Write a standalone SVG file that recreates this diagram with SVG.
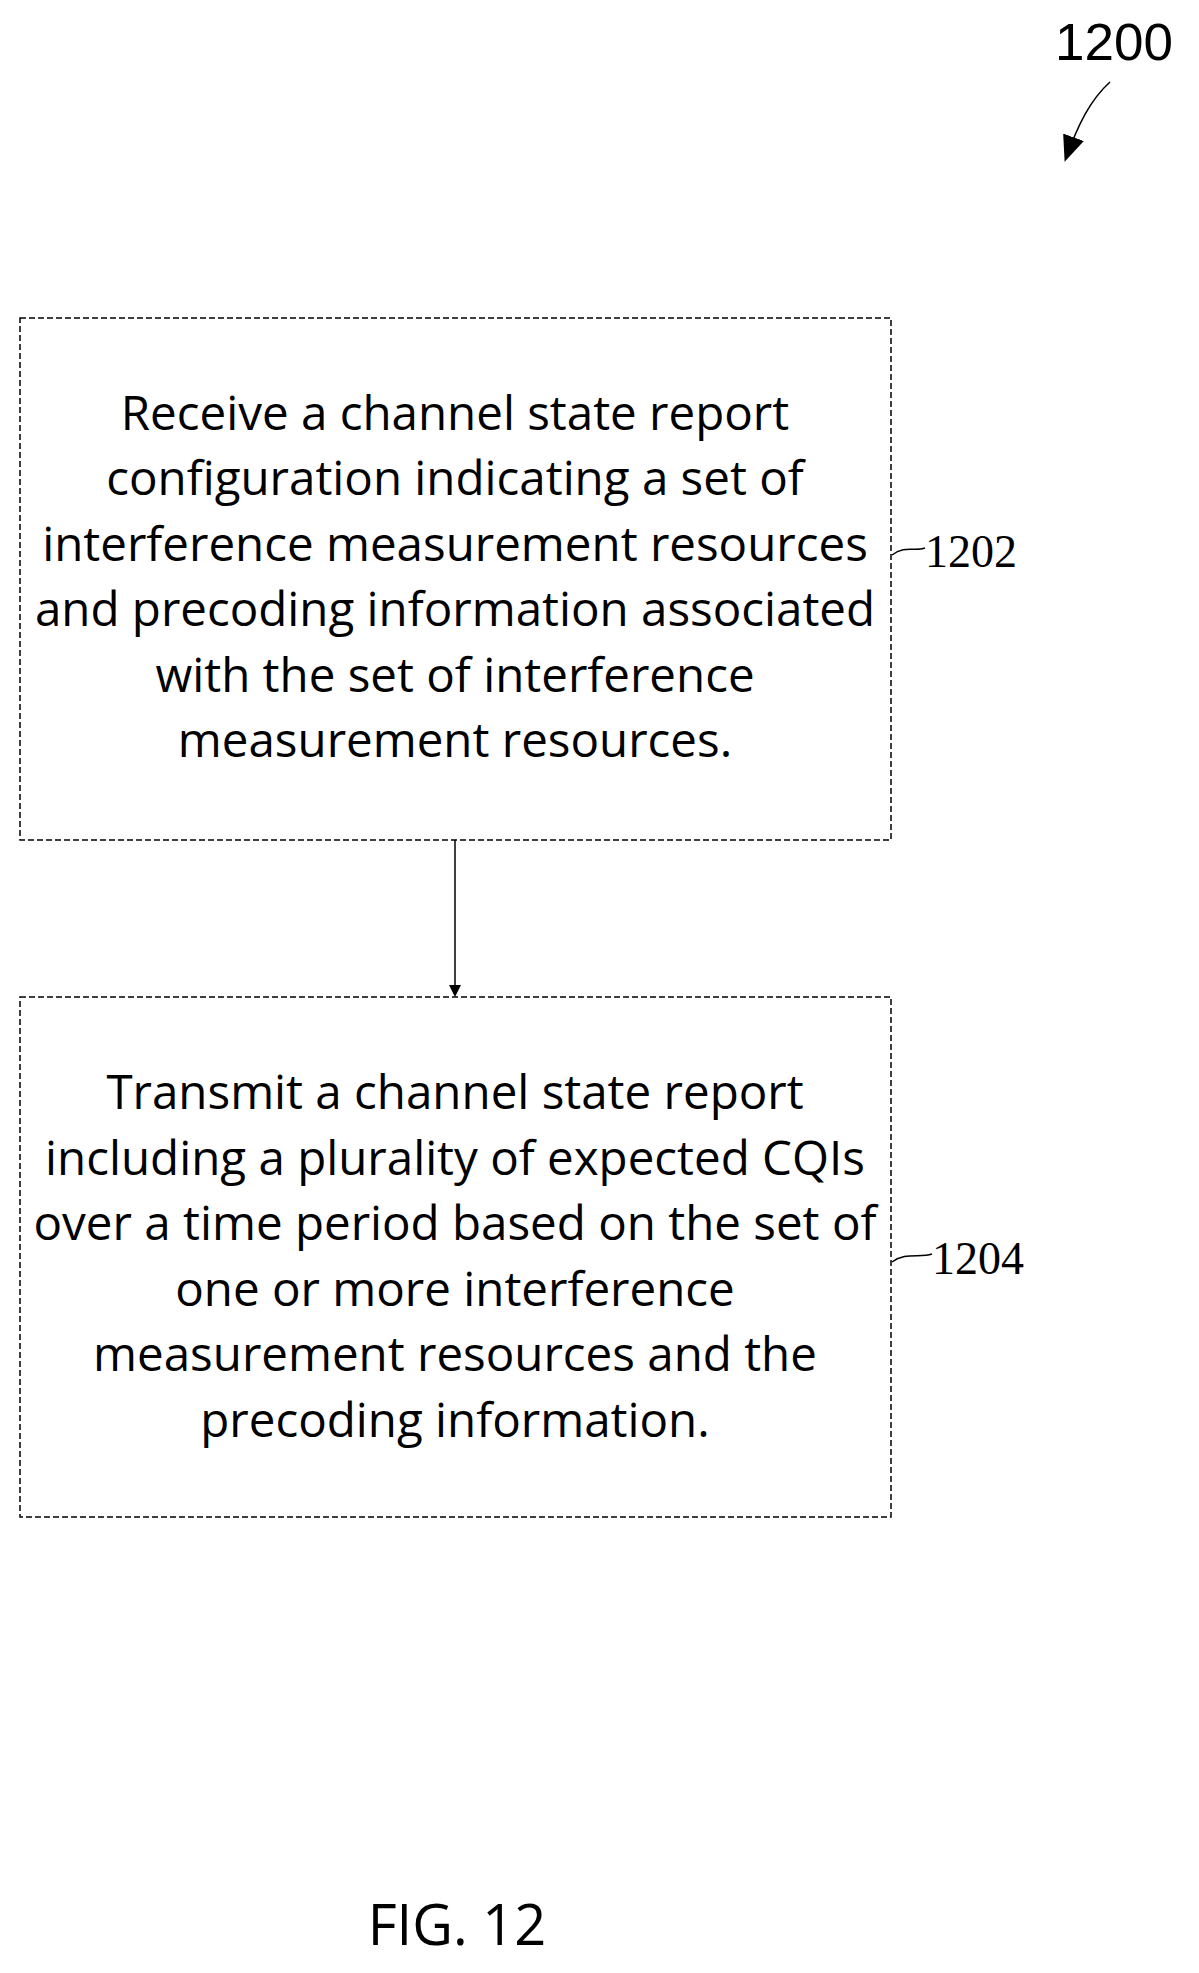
<svg xmlns="http://www.w3.org/2000/svg" width="1199" height="1973" viewBox="0 0 1199 1973">
<defs>
<style>
.box{fill:#fff;stroke:#000;stroke-width:1.5;stroke-dasharray:6 3}
.t{font-family:"Open Sans","Liberation Sans",sans-serif;font-size:47.5px;text-anchor:middle;fill:#000}
.lbl{font-family:"Liberation Serif",serif;font-size:46px;fill:#000}
.ln{fill:none;stroke:#000;stroke-width:1.5}
</style>
<marker id="ah" markerWidth="12" markerHeight="12" refX="10" refY="6" orient="auto" markerUnits="userSpaceOnUse"><path d="M0,0 L12,6 L0,12 z" fill="#000"/></marker>
<marker id="ah2" markerWidth="26" markerHeight="22" refX="22" refY="11" orient="auto" markerUnits="userSpaceOnUse"><path d="M0,0 L26,11 L0,22 z" fill="#000"/></marker>
</defs>
<g id="ref1200">
<text x="1055" y="60" font-family="Liberation Sans,sans-serif" font-size="52" textLength="118" lengthAdjust="spacingAndGlyphs">1200</text>
<path d="M1110,82 C1090,100 1078,125 1066,158" class="ln" stroke-width="3" marker-end="url(#ah2)"/>
</g>
<g id="node1202">
<rect class="box" x="20" y="318" width="871" height="522"/>
<text class="t"><tspan x="455" y="430">Receive a channel state report</tspan><tspan x="455" y="495">configuration indicating a set of</tspan><tspan x="455" y="561">interference measurement resources</tspan><tspan x="455" y="626">and precoding information associated</tspan><tspan x="455" y="692">with the set of interference</tspan><tspan x="455" y="757">measurement resources.</tspan></text>
<path class="ln" d="M892,555 C905,545 915,552 925,548"/>
<text class="lbl" x="925" y="567">1202</text>
</g>
<g id="node1204">
<rect class="box" x="20" y="997" width="871" height="520"/>
<text class="t"><tspan x="455" y="1109">Transmit a channel state report</tspan><tspan x="455" y="1175">including a plurality of expected CQIs</tspan><tspan x="455" y="1240">over a time period based on the set of</tspan><tspan x="455" y="1306">one or more interference</tspan><tspan x="455" y="1371">measurement resources and the</tspan><tspan x="455" y="1437">precoding information.</tspan></text>
<path class="ln" d="M892,1262 C905,1252 920,1258 932,1254"/>
<text class="lbl" x="932" y="1274">1204</text>
</g>
<g id="connectors">
<line class="ln" x1="455" y1="840" x2="455" y2="995" marker-end="url(#ah)"/>
</g>
<text x="457" y="1945" font-family="Open Sans,Liberation Sans,sans-serif" font-size="56" text-anchor="middle">FIG. 12</text>
</svg>
